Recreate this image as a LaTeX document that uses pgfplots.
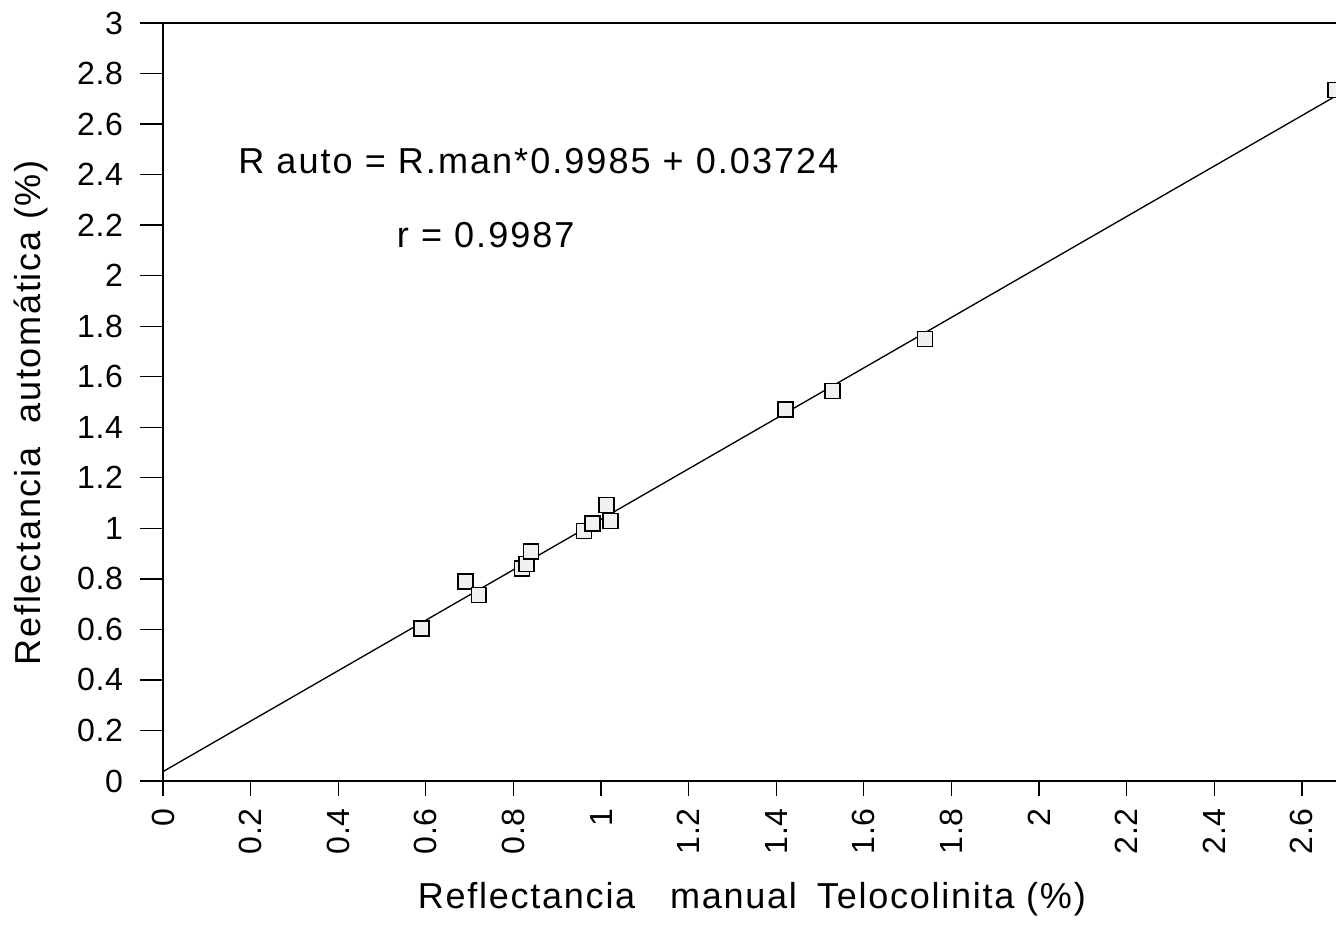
\documentclass[border=0pt]{standalone}
\usepackage{fontspec}
\setmainfont{Liberation Sans}
\newfontfamily\tickfont{Liberation Sans}[LetterSpace=2]
\newfontfamily\labfont{Liberation Sans}[LetterSpace=4.8]
\newfontfamily\annfont{Liberation Sans}[LetterSpace=5.6]
\usepackage{pgfplots}
\pgfplotsset{compat=1.18}
\begin{document}
\begin{tikzpicture}
\begin{axis}[
  name=ax,
  scale only axis, width=439pt, height=283.7pt,
  xmin=0, xmax=2.678, ymin=0, ymax=3,
  axis x line=bottom, axis y line=left,
  axis line style={-, line width=0.75pt},
  xtick={0,0.2,0.4,0.6,0.8,1,1.2,1.4,1.6,1.8,2,2.2,2.4,2.6},
  ytick={0,0.2,0.4,0.6,0.8,1,1.2,1.4,1.6,1.8,2,2.2,2.4,2.6,2.8,3},
  tick align=outside,
  minor tick num=0,
  xtick style={/pgfplots/major tick length=5.6pt, line width=0.5pt, black},
  ytick style={/pgfplots/major tick length=8.6pt, line width=0.5pt, black},
  /pgf/number format/assume math mode=true,
  tick label style={font=\tickfont\fontsize{12}{14}\selectfont},
  xticklabel style={rotate=90, anchor=east, inner sep=0pt},
  yticklabel style={anchor=east, inner sep=0pt},
  xticklabel shift=5.8pt,
  yticklabel shift=10.5pt,
  xlabel={Reflectancia\hspace{13pt}manual\hspace{7.5pt}Telocolinita (\%)},
  ylabel={Reflectancia\hspace{9pt}automática (\%)},
  label style={font=\labfont\fontsize{13.5}{16}\selectfont},
  xlabel style={at={(axis description cs:0.502,-0.1688)}, anchor=base},
  ylabel style={at={(axis description cs:-0.1041,0.486)}, anchor=base, rotate=0},
]
\addplot[black, line width=0.5pt] coordinates {(0,0.03724) (2.678,2.7113)};
\addplot[only marks, mark=square*, mark size=2.8pt,
  mark options={fill=gray!12, draw=black, line width=0.6pt}] coordinates {
  (0.59,0.604) (0.69,0.789) (0.721,0.736) (0.82,0.842) (0.83,0.859)
  (0.84,0.908) (0.961,0.989) (0.981,1.02) (1.013,1.092) (1.022,1.029)
  (1.421,1.471) (1.529,1.543) (1.74,1.749) (2.677,2.735)
};
\node[anchor=base west, font=\annfont\fontsize{13.5}{16}\selectfont, inner sep=0pt]
  at (axis cs:0.171,2.406) {R auto = R.man*0.9985 + 0.03724};
\node[anchor=base west, font=\annfont\fontsize{13.5}{16}\selectfont, inner sep=0pt]
  at (axis cs:0.533,2.11) {r = 0.9987};
\coordinate (bl) at (rel axis cs:0,0);
\coordinate (tr) at (rel axis cs:1,1);
\coordinate (tl) at (rel axis cs:0,1);
\end{axis}
\draw[line width=0.75pt] (tl) -- (tr);
\pgfresetboundingbox
\path (bl) ++(-61pt,-54.6pt) coordinate (BB1);
\path (tr) ++(0pt,8.6pt) coordinate (BB2);
\useasboundingbox (BB1) rectangle (BB2);
\end{tikzpicture}
\end{document}
